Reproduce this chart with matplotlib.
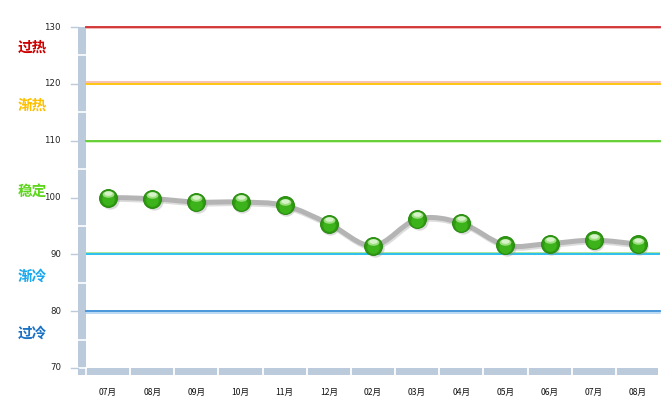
"""
Monthly index chart with status bands (过热 / 渐热 / 稳定 / 渐冷 / 过冷).
"""

import numpy as np
import matplotlib
matplotlib.use("Agg")
import matplotlib.pyplot as plt
from matplotlib.path import Path
from matplotlib.patches import PathPatch, Rectangle
from matplotlib import transforms

# Data
months = ["07月", "08月", "09月", "10月", "11月", "12月", "02月",
          "03月", "04月", "05月", "06月", "07月", "08月"]
values = [100.0, 99.8, 99.2, 99.2, 98.6, 95.4, 91.5,
          96.2, 95.5, 91.6, 91.9, 92.5, 91.8]

y_ticks = [70, 80, 90, 100, 110, 120, 130]

# threshold lines: (value, main colour, soft colour, soft side: +1 above, -1 below)
thresholds = [
    (130, "#d02b2b", "#f2a0a0", -1),
    (120, "#ffc000", "#f5b0a0", 1),
    (110, "#5ccc2a", "#c8f0b0", -1),
    (80, "#3a8fd8", "#a8d0f0", -1),
]
band_labels = ["过热", "渐热", "稳定", "渐冷", "过冷"]
band_label_y = [126.5, 116.3, 101.1, 86.2, 76.2]
band_colors = ["#cc0000", "#ffc000", "#5fd61e", "#1aa8ee", "#1a72c4"]

CJK = ["Noto Sans CJK SC", "DejaVu Sans"]

W, H = 668, 413
fig = plt.figure(figsize=(W / 100, H / 100), dpi=100)
fig.patch.set_facecolor("white")

# plot area in pixels: x 86..660, y 27..368 (top..bottom)
px_l, px_r, px_t, px_b = 86, 660, 27, 368
ax = fig.add_axes([px_l / W, (H - px_b) / H, (px_r - px_l) / W, (px_b - px_t) / H])
ax.set_xlim(-0.5, len(months) - 0.5)
ax.set_ylim(70, 130)
ax.axis("off")


def fx(px):
    return px / W


def fy(py):
    return (H - py) / H


wall_color = "#bccbdb"

# 3D wall on the left and floor
ax.add_patch(Rectangle((fx(78), fy(375)), fx(8), fy(27) - fy(375),
                       transform=fig.transFigure, facecolor=wall_color,
                       edgecolor="none", zorder=0, clip_on=False))
ax.add_patch(Rectangle((fx(78), fy(375)), fx(658) - fx(78), fy(368) - fy(375),
                       transform=fig.transFigure, facecolor=wall_color,
                       edgecolor="none", zorder=0, clip_on=False))
# white separators on the wall (half steps) and floor (category boundaries)
blend_y = transforms.blended_transform_factory(fig.transFigure, ax.transData)
for v in list(np.arange(75, 130, 10)) + [70]:
    ax.plot([fx(78), fx(86)], [v, v], color="white", lw=1.2,
            transform=blend_y, clip_on=False, zorder=1)
ax.plot([fx(85.5), fx(85.5)], [fy(368), fy(375)], color="white", lw=1.2,
        transform=fig.transFigure, clip_on=False, zorder=1)
blend_x = transforms.blended_transform_factory(ax.transData, fig.transFigure)
for i in range(1, len(months)):
    ax.plot([i - 0.5, i - 0.5], [fy(368), fy(375)], color="white", lw=1.3,
            transform=blend_x, clip_on=False, zorder=1)

# y ticks and labels
for v in y_ticks:
    ax.plot([fx(71), fx(78)], [v, v], color="#bccbdb", lw=1.0,
            transform=blend_y, clip_on=False)
    ax.text(fx(61), v, str(v), transform=blend_y, ha="right", va="center",
            fontsize=6.2, color="#222222", family="DejaVu Sans")

# x labels
for i, m in enumerate(months):
    ax.text(i, fy(392), m, transform=blend_x, ha="center", va="center",
            fontsize=6.2, color="#111111", family=CJK)

# threshold lines
for val, col, soft, side in thresholds:
    off = transforms.offset_copy(ax.transData, fig=fig, x=0, y=side * 1.4, units="dots")
    ax.plot([-0.5, len(months) - 0.5], [val, val], color=soft, lw=1.1,
            transform=off, zorder=2, clip_on=False)
    ax.plot([-0.5, len(months) - 0.5], [val, val], color=col, lw=1.3, zorder=3,
            clip_on=False)

# 90 line: green over cyan
off_up = transforms.offset_copy(ax.transData, fig=fig, x=0, y=1.3, units="dots")
ax.plot([-0.5, len(months) - 0.5], [90, 90], color="#9fe08a", lw=1.2,
        transform=off_up, zorder=2)
ax.plot([-0.5, len(months) - 0.5], [90, 90], color="#2cc0ee", lw=1.4, zorder=3)

# band labels
for lab, yv, col in zip(band_labels, band_label_y, band_colors):
    ax.text(fx(32), yv, lab, transform=blend_y, ha="center", va="center",
            fontsize=10.5, fontweight="bold", color=col, family=CJK)

# smooth grey line (Catmull-Rom as cubic Bezier)
x = np.arange(len(values), dtype=float)
y = np.array(values)
verts = [(x[0], y[0])]
codes = [Path.MOVETO]
for i in range(len(x) - 1):
    p0 = (x[max(i - 1, 0)], y[max(i - 1, 0)])
    p1 = (x[i], y[i])
    p2 = (x[i + 1], y[i + 1])
    p3 = (x[min(i + 2, len(x) - 1)], y[min(i + 2, len(x) - 1)])
    c1 = (p1[0] + (p2[0] - p0[0]) / 6, p1[1] + (p2[1] - p0[1]) / 6)
    c2 = (p2[0] - (p3[0] - p1[0]) / 6, p2[1] - (p3[1] - p1[1]) / 6)
    verts += [c1, c2, p2]
    codes += [Path.CURVE4] * 3
shadow_tr = transforms.offset_copy(ax.transData, fig=fig, x=1, y=-1.5, units="dots")
ax.add_patch(PathPatch(Path(verts, codes), facecolor="none", edgecolor="#dddddd",
                       lw=4.0, transform=shadow_tr, zorder=4))
ax.add_patch(PathPatch(Path(verts, codes), facecolor="none", edgecolor="#b4b4b4",
                       lw=3.6, zorder=5, capstyle="round"))

# glossy green markers
ellipse = Path.unit_circle().transformed(transforms.Affine2D().scale(1.0, 0.55))
sh = transforms.offset_copy(ax.transData, fig=fig, x=1.5, y=-2, units="dots")
ax.plot(x, y, "o", ms=13.2, color="#999999", alpha=0.35, mew=0,
        transform=sh, zorder=6)
ax.plot(x, y, "o", ms=12.8, markerfacecolor="#2f9a12", markeredgecolor="#268a0c",
        mew=0.8, zorder=7)
lo = transforms.offset_copy(ax.transData, fig=fig, x=0, y=-1.5, units="dots")
ax.plot(x, y, "o", ms=9.0, color="#3cb31a", mew=0, transform=lo, zorder=8)
hi = transforms.offset_copy(ax.transData, fig=fig, x=0, y=3.6, units="dots")
ax.plot(x, y, marker=ellipse, ls="none", ms=8.5, color="#a8e48c", alpha=0.9, mew=0,
        transform=hi, zorder=9)
hi2 = transforms.offset_copy(ax.transData, fig=fig, x=0, y=4.6, units="dots")
ax.plot(x, y, marker=ellipse, ls="none", ms=6.0, color="#e6f8dc", alpha=0.8, mew=0,
        transform=hi2, zorder=10)

fig.savefig("out.png", dpi=100)
